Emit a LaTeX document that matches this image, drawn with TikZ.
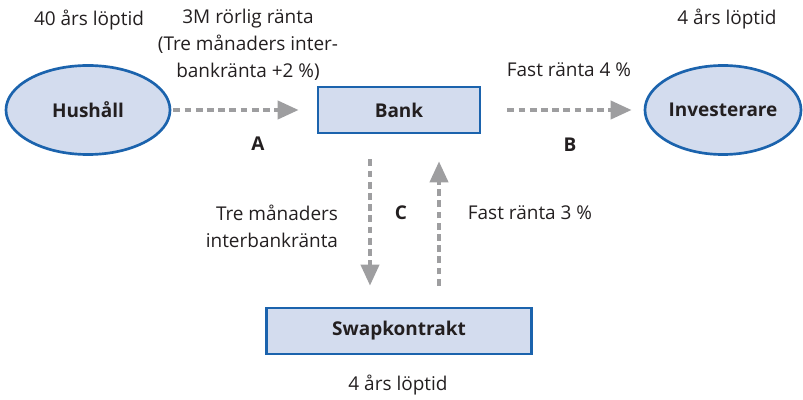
\documentclass[tikz,border=0pt]{standalone}
\usepackage{fontspec}
\setmainfont{Open Sans}
\usepackage{xcolor}
\usepackage{tikz}
\usetikzlibrary{arrows.meta}
\usetikzlibrary{shapes.geometric}

\definecolor{boxfill}{HTML}{D3DCEE}
\definecolor{boxline}{HTML}{1B63AD}
\definecolor{flowgray}{HTML}{9E9EA0}
\definecolor{txtgray}{HTML}{231F20}

\newcommand{\lblfont}{\fontsize{13.5}{19.2}\selectfont}

\begin{document}
\begin{tikzpicture}[x=0.025cm,y=-0.025cm,
    every node/.style={text=txtgray,font=\lblfont},
    party/.style={ellipse,draw=boxline,fill=boxfill,line width=1.9pt,
      minimum width=4.1cm,minimum height=2.225cm,inner sep=0pt,
      font=\lblfont\bfseries},
    inst/.style={rectangle,draw=boxline,fill=boxfill,line width=1.9pt,
      minimum height=1.15cm,inner sep=0pt,font=\lblfont\bfseries},
    flow/.style={draw=flowgray,line width=0.1cm,
      dash pattern=on 0.17cm off 0.11cm,
      -{Triangle[length=0.525cm,width=0.45cm]}},
    leg/.style={font=\lblfont\bfseries}]
    \useasboundingbox (0,0) rectangle (803,400);

    \node[party] (hush) at (88,110) {Hushåll};
    \node[inst,minimum width=4.05cm] (bank) at (399,110) {Bank};
    \node[party,minimum width=3.9cm] (inv) at (723,110) {Investerare};
    \node[inst,minimum width=6.625cm] (swap) at (399,331) {Swapkontrakt};

    \node (hushterm) at (89,20) {40 års löptid};
    \node[align=center] (rateA) at (248,45)
      {3M rörlig ränta\\(Tre månaders inter-\\bankränta +2 \%)};
    \node (invterm) at (727,19) {4 års löptid};
    \node (rateB) at (569,70) {Fast ränta 4 \%};
    \node[align=right,anchor=east] (rateCl) at (343,226)
      {Tre månaders\\interbankränta};
    \node (rateCr) at (530,213) {Fast ränta 3 \%};
    \node (swapterm) at (398,385) {4 års löptid};

    \node[leg] (legA) at (258,144) {A};
    \node[leg] (legB) at (570,145) {B};
    \node[leg] (legC) at (401,213) {C};

    \draw[flow,shorten <=0.05cm,shorten >=0.45cm] (hush.east) -- (bank.west);
    \draw[flow,shorten <=0.65cm,shorten >=0.3cm] (bank.east) -- (inv.west);
    \draw[flow,shorten <=0.625cm,shorten >=0.525cm]
      ([xshift=-0.725cm]bank.south) -- ([xshift=-0.725cm]swap.north);
    \draw[flow,shorten <=0.525cm,shorten >=0.675cm]
      ([xshift=1cm]swap.north) -- ([xshift=1cm]bank.south);
  \end{tikzpicture}
\end{document}
